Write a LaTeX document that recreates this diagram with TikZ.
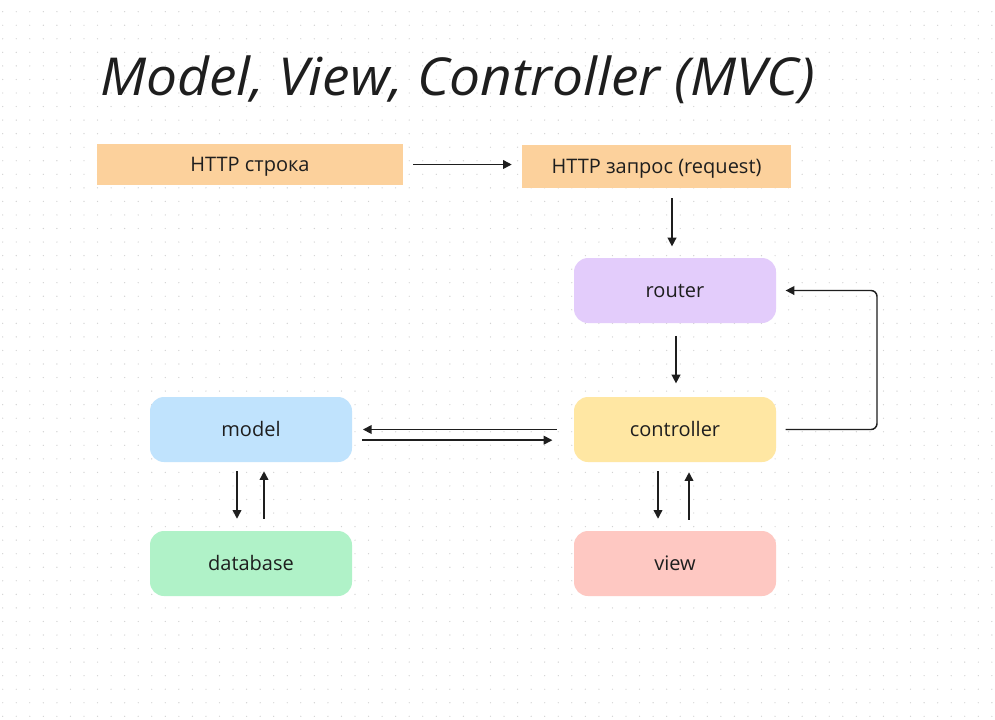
\documentclass[tikz,border=0pt]{standalone}
\usepackage{fontspec}
\usepackage{graphicx}
\setmainfont{Open Sans}
\newfontfamily\titlefont{Open Sans}
\usetikzlibrary{arrows.meta}
\definecolor{ink}{HTML}{1E1E1E}
\definecolor{dotgray}{HTML}{D2D2D2}
\definecolor{httpfill}{HTML}{FCD19C}
\definecolor{routerfill}{HTML}{E3CCFB}
\definecolor{ctrlfill}{HTML}{FFE7A3}
\definecolor{modelfill}{HTML}{C0E3FD}
\definecolor{dbfill}{HTML}{B0F2C8}
\definecolor{viewfill}{HTML}{FEC8C2}
\tikzset{
  lbl/.style={font=\fontsize{15pt}{18pt}\selectfont, text=ink, text height=10.7pt, text depth=0pt},
  strip/.style={lbl, rectangle, inner sep=0pt},
  block/.style={lbl, rectangle, rounded corners=10.5pt, minimum width=151.5pt, minimum height=48.75pt, inner sep=0pt},
  flow/.style={draw=ink, line width=1.1pt, -{Triangle[length=6.5pt,width=6.5pt]}},
}
\begin{document}
\begin{tikzpicture}[x=0.75pt, y=-0.75pt]
  % canvas and dot grid
  \fill[white] (0,0) rectangle (995,719);
  \useasboundingbox (0,0) rectangle (995,719);
  \foreach \i in {0,...,73} {
    \foreach \j in {0,...,52} {
      \fill[dotgray] ({2.7+13.55*\i},{11.7+13.55*\j}) circle (0.5pt);
    }
  }

  % heading
  \node[anchor=west, text=ink, inner sep=0pt] (title) at (100,80)
    {\resizebox*{536pt}{36pt}{\titlefont\itshape Model, View, Controller (MVC)}};

  % request strips
  \node[strip, fill=httpfill, minimum width=229.5pt, minimum height=30.75pt] (line) at (250,164.5) {HTTP строка};
  \node[strip, fill=httpfill, minimum width=201.75pt, minimum height=32.25pt] (req) at (656.5,166.5) {HTTP запрос (request)};

  % blocks
  \node[block, fill=routerfill] (router) at (675,290.5) {router};
  \node[block, fill=ctrlfill] (ctrl) at (675,429.5) {controller};
  \node[block, fill=modelfill] (model) at (251,429.5) {model};
  \node[block, fill=dbfill] (db) at (251,563.5) {database};
  \node[block, fill=viewfill] (view) at (675,563.5) {view};

  % connectors
  \draw[flow] ([xshift=7.5pt]line.east) -- ([xshift=-7.5pt]line.east -| req.west);
  \draw[flow] ([yshift=-7.5pt]req.south -| 672,0) -- ([yshift=8.5pt]router.north -| 672,0);
  \draw[flow] ([yshift=-9.5pt]router.south -| 676,0) -- ([yshift=10pt]ctrl.north -| 676,0);
  \coordinate (loopdown) at (877,429.5);
  \coordinate (loopup) at (877,290.5);
  \draw[flow, rounded corners=4.5pt] ([xshift=7pt]ctrl.east) -- (loopdown) -- (loopup) -- ([xshift=7pt]router.east);
  \draw[flow] ([xshift=-12.75pt]ctrl.west) -- ([xshift=8pt]model.east);
  \draw[flow] ([xshift=7.5pt,yshift=-8pt]model.east) -- ([xshift=-16pt,yshift=-8pt]ctrl.west);
  \draw[flow] ([yshift=-6.75pt]model.south -| 237,0) -- ([yshift=9pt]db.north -| 237,0);
  \draw[flow] ([yshift=9pt]db.north -| 264,0) -- ([yshift=-6.75pt]model.south -| 264,0);
  \draw[flow] ([yshift=-6.75pt]ctrl.south -| 658,0) -- ([yshift=9pt]view.north -| 658,0);
  \draw[flow] ([yshift=8.25pt]view.north -| 689,0) -- ([yshift=-7.5pt]ctrl.south -| 689,0);
\end{tikzpicture}
\end{document}
